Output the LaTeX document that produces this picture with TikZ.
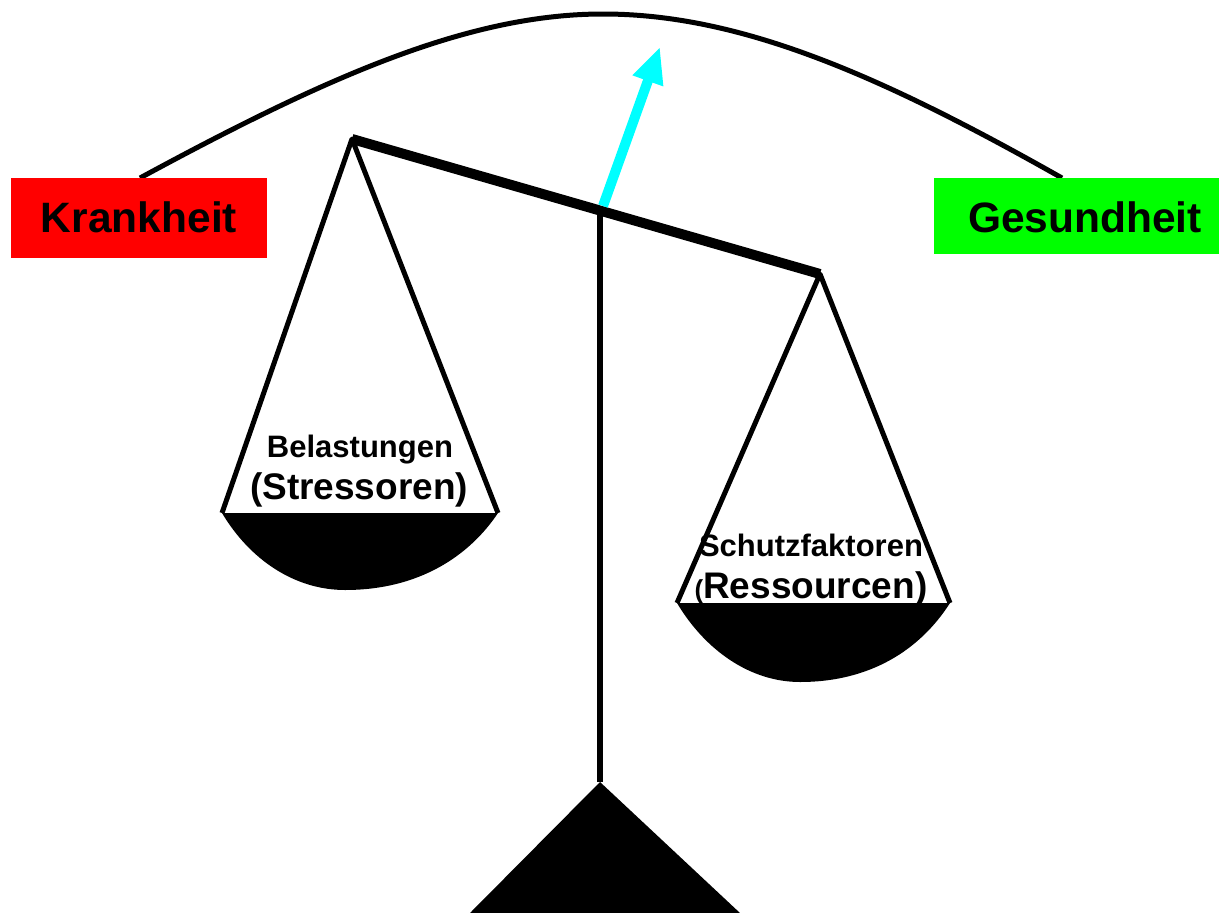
\documentclass[tikz,border=0pt]{standalone}
\usepackage{fontspec}
\setmainfont{Liberation Sans}
\usetikzlibrary{arrows.meta}
\definecolor{kred}{RGB}{255,0,0}
\definecolor{kgreen}{RGB}{0,255,0}
\definecolor{kcyan}{RGB}{0,255,255}
\tikzset{
  label box/.style={inner sep=0pt, anchor=north west},
  boxtext/.style={anchor=base, inner sep=0pt, font=\bfseries\fontsize{42.5}{42.5}\selectfont},
  pantext/.style={anchor=base, inner sep=0pt, font=\bfseries},
  string/.style={line width=5pt, line join=round},
}
\begin{document}
\begin{tikzpicture}[x=1pt,y=-1pt]
\useasboundingbox (0,0) rectangle (1219,913);
% curve
\coordinate (cL) at (140,178);
\coordinate (cT) at (603,14);
\coordinate (cR) at (1062,178);
\draw[line width=5pt] (cL) .. controls (330,75) and (470,14) .. (cT) .. controls (740,14) and (880,75) .. (cR);
% boxes
\node[label box, fill=kred, minimum width=256pt, minimum height=80pt] (krank) at (11,178) {};
\node[boxtext] (kranktext) at (139,232) {Krankheit};
\node[label box, fill=kgreen, minimum width=285pt, minimum height=76pt] (gesund) at (934,178) {};
\node[boxtext] (gesundtext) at (1085,232) {Gesundheit};
% beam
\coordinate (bL) at (352,139);
\coordinate (bR) at (820,274);
\coordinate (piv) at (600,207);
\coordinate (post) at (600,782);
% post and base
\draw[line width=5.5pt] (piv) -- (post);
\fill (post) -- (740,913) -- (470,913) -- cycle;
\draw[line width=10pt] (bL) -- (bR);
% left pan
\coordinate (lpA) at (222,513);
\coordinate (lpB) at (498,513);
\fill (lpA) .. controls (250,560) and (295,590) .. (345,590) .. controls (420,590) and (470,555) .. (lpB) -- cycle;
\draw[string] (lpA) -- (bL) -- (lpB);
% right pan
\coordinate (rpA) at (677,603);
\coordinate (rpB) at (950,603);
\fill (rpA) .. controls (705,650) and (750,682) .. (800,682) .. controls (870,682) and (920,650) .. (rpB) -- cycle;
\draw[string] (rpA) -- (bR) -- (rpB);
% texts
\node[pantext, font=\bfseries\fontsize{31}{31}\selectfont] (bel) at (360,457) {Belastungen};
\node[pantext, font=\bfseries\fontsize{37}{37}\selectfont] (str) at (359,499) {(Stressoren)};
\node[pantext, font=\bfseries\fontsize{31}{31}\selectfont] (sch) at (811,556) {Schutzfaktoren};
\node[pantext, font=\bfseries\fontsize{37}{37}\selectfont] (res) at (811,598) {{\fontsize{26}{26}\selectfont(}Ressourcen)};
% arrow
\coordinate (aS) at (603,206);
\coordinate (aE) at (660,47);
\draw[kcyan, line width=10pt, -{Triangle[width=30pt,length=36pt]}] (aS) -- (aE);
\end{tikzpicture}
\end{document}
